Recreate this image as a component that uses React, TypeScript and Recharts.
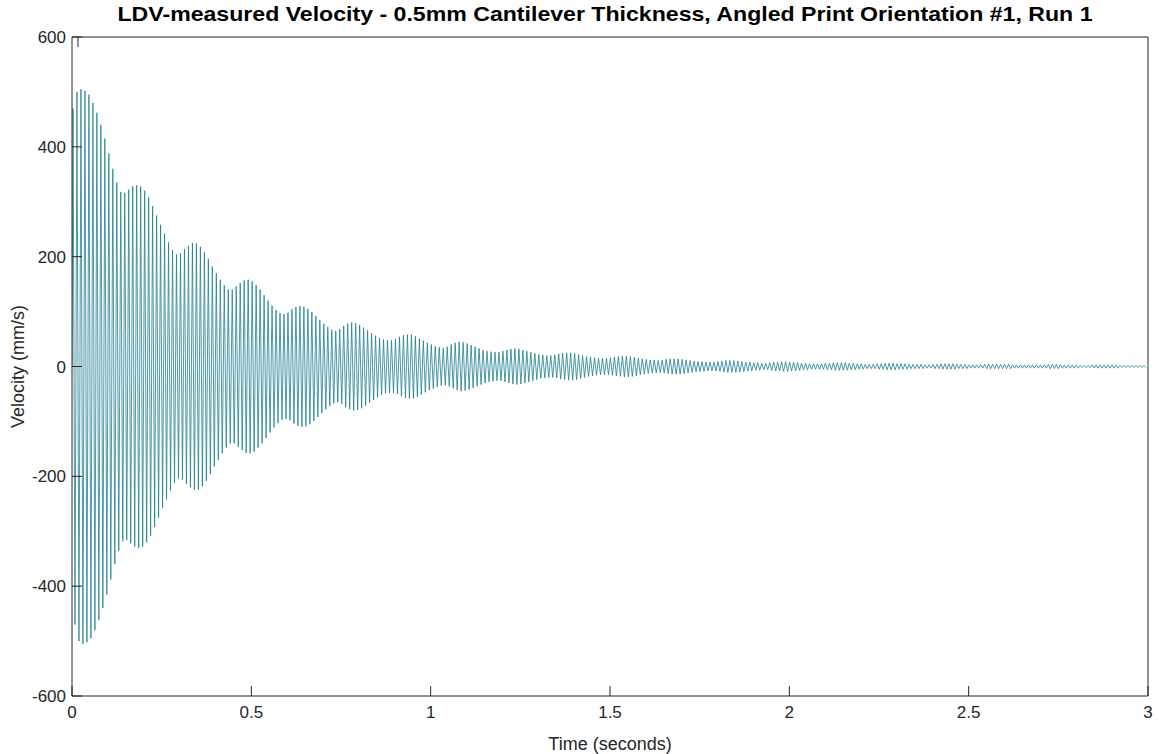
import { Label, Line, LineChart, XAxis, YAxis } from "recharts";

// seconds per oscillation cycle, read from the spacing of the peaks
const PERIOD = 0.0111;

const amplitudes = [
  470, 500, 505, 502, 495, 480, 462, 440, 415, 388, 360, 335, 318,
  316, 322, 328, 330, 328, 320, 308, 292, 275, 258, 242, 226, 212, 204,
  206, 214, 220, 225, 224, 218, 208, 196, 182, 170, 158, 148, 140,
  140, 146, 152, 157, 158, 155, 148, 140, 130, 120, 111, 103, 97, 95,
  98, 104, 108, 110, 109, 105, 99, 92, 85, 78, 72, 67, 65,
  68, 74, 78, 80, 79, 76, 71, 66, 61, 56, 52, 49, 48, 48,
  50, 54, 57, 58, 58, 55, 51, 47, 43, 40, 37, 35, 34,
  36, 40, 43, 45, 44, 42, 39, 36, 33, 30, 28, 27, 26, 26,
  28, 30, 32, 33, 32, 30, 28, 26, 24, 22, 21, 20, 20,
  21, 23, 24, 25, 25, 24, 22, 20, 18, 17, 16, 15, 15, 15,
  16, 17, 18, 19, 19, 18, 17, 15, 14, 13, 12, 12, 11,
  12, 13, 14, 14, 14, 13, 12, 11, 10, 9, 9, 8, 8, 8,
  9, 10, 11, 11, 11, 10, 9, 8, 8, 7, 7, 6, 6,
  7, 8, 8, 9, 9, 8, 8, 7, 6, 6, 5, 5, 5, 5,
  6, 6, 7, 7, 7, 7, 6, 6, 5, 5, 4, 4, 4,
  5, 5, 6, 6, 6, 5, 5, 5, 4, 4, 4, 4, 3, 3,
  4, 4, 5, 5, 5, 5, 4, 4, 4, 3, 3, 3, 3,
  4, 4, 4, 4, 4, 4, 4, 3, 3, 3, 3, 3, 3, 3,
  3, 3, 4, 4, 4, 3, 3, 3, 3, 3, 2, 2, 2,
  3, 3, 3, 3, 3, 3, 3, 2, 2, 2, 2, 2, 2, 2,
];

const timeTicks = [0, 0.5, 1, 1.5, 2, 2.5, 3];
const velocityTicks = [-600, -400, -200, 0, 200, 400, 600];

// each cycle gives a crest and a trough
const data: { t: number; v: number }[] = [{ t: 0, v: 0 }];
amplitudes.forEach((a, i) => {
  data.push({ t: i * PERIOD + PERIOD / 4, v: a });
  data.push({ t: i * PERIOD + (3 * PERIOD) / 4, v: -a });
});

const font = "'Liberation Sans', Arial, Helvetica, sans-serif";
const ink = "#262626";
const TICK = 10; // inward tick length, matlab style

// ticks drawn inward, with labels outside the box
const BottomTick = ({ x, y, payload }: any) => (
  <g>
    <line x1={x} y1={y} x2={x} y2={y - TICK} stroke={ink} />
    <text x={x} y={y + 10} dy="0.71em" textAnchor="middle" fill={ink} fontSize={17} fontFamily={font}>
      {String(payload.value)}
    </text>
  </g>
);
const LeftTick = ({ x, y, payload }: any) => (
  <g>
    <line x1={x} y1={y} x2={x + TICK} y2={y} stroke={ink} />
    <text x={x - 6} y={y} dy="0.355em" textAnchor="end" fill={ink} fontSize={17} fontFamily={font}>
      {String(payload.value)}
    </text>
  </g>
);
const TopTick = ({ x, y }: any) => <line x1={x} y1={y} x2={x} y2={y + TICK} stroke={ink} />;
const RightTick = ({ x, y }: any) => <line x1={x} y1={y} x2={x - TICK} y2={y} stroke={ink} />;

const App = () => {
  return (
    <div style={{ position: "absolute", left: 0, top: 0, width: 1163, height: 754, background: "#fff" }}>
      <svg width={1163} height={37} style={{ position: "absolute", left: 0, top: 0 }}>
        <text
          x={605}
          y={21}
          textAnchor="middle"
          fontFamily={font}
          fontWeight="bold"
          fontSize={21}
          fill="#000"
          textLength={975}
          lengthAdjust="spacingAndGlyphs"
        >
          LDV-measured Velocity - 0.5mm Cantilever Thickness, Angled Print Orientation #1, Run 1
        </text>
      </svg>
      <LineChart
        width={1163}
        height={754}
        data={data}
        margin={{ top: 36, right: 14, bottom: 0, left: 0 }}
      >
        <XAxis
          dataKey="t"
          type="number"
          domain={[0, 3]}
          ticks={timeTicks}
          allowDataOverflow
          height={58}
          stroke={ink}
          tick={<BottomTick />}
          tickLine={false}
          tickSize={0}
          tickMargin={0}
        >
          <Label
            value="Time (seconds)"
            position="insideBottom"
            offset={4}
            style={{ fill: ink, fontSize: 18, fontFamily: font }}
          />
        </XAxis>
        <XAxis
          xAxisId="top"
          orientation="top"
          type="number"
          domain={[0, 3]}
          ticks={timeTicks}
          height={1}
          stroke={ink}
          tick={<TopTick />}
          tickLine={false}
          tickSize={0}
          tickMargin={0}
        />
        <YAxis
          type="number"
          domain={[-600, 600]}
          ticks={velocityTicks}
          allowDataOverflow
          width={72}
          stroke={ink}
          tick={<LeftTick />}
          tickLine={false}
          tickSize={0}
          tickMargin={0}
        >
          <Label
            value="Velocity (mm/s)"
            position="center"
            angle={-90}
            dx={-18}
            style={{ fill: ink, fontSize: 18, fontFamily: font, textAnchor: "middle" }}
          />
        </YAxis>
        <YAxis
          yAxisId="right"
          orientation="right"
          type="number"
          domain={[-600, 600]}
          ticks={velocityTicks}
          width={1}
          stroke={ink}
          tick={<RightTick />}
          tickLine={false}
          tickSize={0}
          tickMargin={0}
        />
        <Line
          type="linear"
          dataKey="v"
          stroke="#1f7f8f"
          strokeWidth={0.8}
          dot={false}
          isAnimationActive={false}
        />
      </LineChart>
    </div>
  );
};

export default App;
